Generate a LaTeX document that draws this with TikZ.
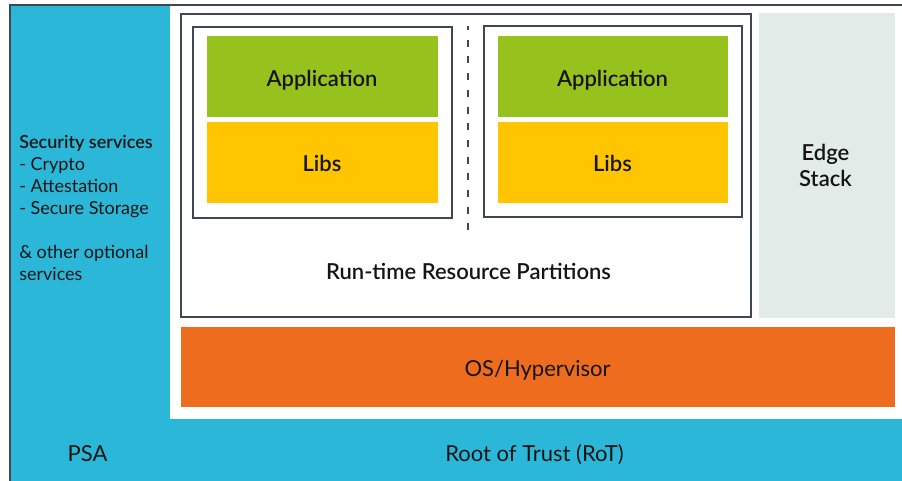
\documentclass[tikz,border=0pt]{standalone}
\usepackage{fontspec}
\setmainfont{Lato}[BoldFont={Lato Semibold}]
\definecolor{psacyan}{HTML}{2BB8D8}
\definecolor{framegray}{HTML}{3D4852}
\definecolor{appgreen}{HTML}{97C21E}
\definecolor{libyellow}{HTML}{FFC500}
\definecolor{osorange}{HTML}{EE6C1E}
\definecolor{edgegray}{HTML}{E3EBE9}
\definecolor{txt}{HTML}{151515}
\tikzset{
  blk/.style={inner sep=0pt, outer sep=0pt},
  frame/.style={blk, draw=framegray, line width=2pt},
  lbl/.style={inner sep=0pt, outer sep=0pt, text=txt, anchor=base},
  semi/.style={lbl, font=\fontsize{22}{26}\selectfont\bfseries},
  reg/.style={lbl, font=\fontsize{22}{26}\selectfont},
}
\begin{document}
\begin{tikzpicture}[x=1pt,y=-1pt]
\useasboundingbox (0,0) rectangle (902,480);
\fill[white] (-5,-5) rectangle (910,490);
% outer PSA frame
\node[frame, fill=psacyan, minimum width=990, minimum height=495, anchor=north west] (psa) at (10,5) {};
% white area
\fill[white] (170,6) rectangle (910,419);
% run-time partitions box
\node[frame, fill=white, minimum width=570, minimum height=303] (rt) at (466,165.5) {};
\node[semi] (rtlabel) at (468.5,279.3) {Run-time Resource Partitions};
% partitions
\node[frame, fill=white, minimum width=259, minimum height=191] (p1) at (322.5,122) {};
\node[frame, fill=white, minimum width=258, minimum height=191] (p2) at (613,121.5) {};
% applications and libs
\node[blk, fill=appgreen, minimum width=231, minimum height=81] (app1) at (322.5,76.5) {};
\node[blk, fill=libyellow, minimum width=231, minimum height=81] (lib1) at (322.5,162) {};
\node[blk, fill=appgreen, minimum width=230, minimum height=81] (app2) at (613,76.5) {};
\node[blk, fill=libyellow, minimum width=230, minimum height=81] (lib2) at (613,162) {};
\node[semi] (app1t) at (322,86) {Application};
\node[semi] (lib1t) at (322,171.7) {Libs};
\node[semi] (app2t) at (612.5,86) {Application};
\node[semi] (lib2t) at (612.5,171.7) {Libs};
% dashed separator
\coordinate (dtop) at (468,26);
\coordinate (dbot) at (468,233);
\draw[framegray, line width=2.2pt, dash pattern=on 7pt off 9.7pt, dash phase=3pt] (dtop) -- (dbot);
% edge stack
\node[blk, fill=edgegray, minimum width=136, minimum height=305] (edge) at (827,165.5) {};
\node[semi] (edget1) at (825.5,160.7) {Edge};
\node[semi] (edget2) at (825.5,186.7) {Stack};
% OS / hypervisor
\node[blk, fill=osorange, minimum width=714, minimum height=80] (os) at (538,367) {};
\node[reg] (ost) at (537.5,376.3) {OS/Hypervisor};
% bottom labels
\node[reg] (rot) at (534.5,461.6) {Root of Trust (RoT)};
\node[reg] (psalabel) at (87.5,461.6) {PSA};
% security services text
\begin{scope}[every node/.style={inner sep=0pt, outer sep=0pt, text=txt, anchor=base west, font=\fontsize{18}{22}\selectfont}]
\node (s1) at (19.3,148.3) {\bfseries Security services};
\node (s2) at (19.3,170.3) {- Crypto};
\node (s3) at (19.3,192.3) {- Attestation};
\node (s4) at (19.3,214.3) {- Secure Storage};
\node (s5) at (19.3,258.3) {\& other optional};
\node (s6) at (19.3,280.3) {services};
\end{scope}
\end{tikzpicture}
\end{document}
